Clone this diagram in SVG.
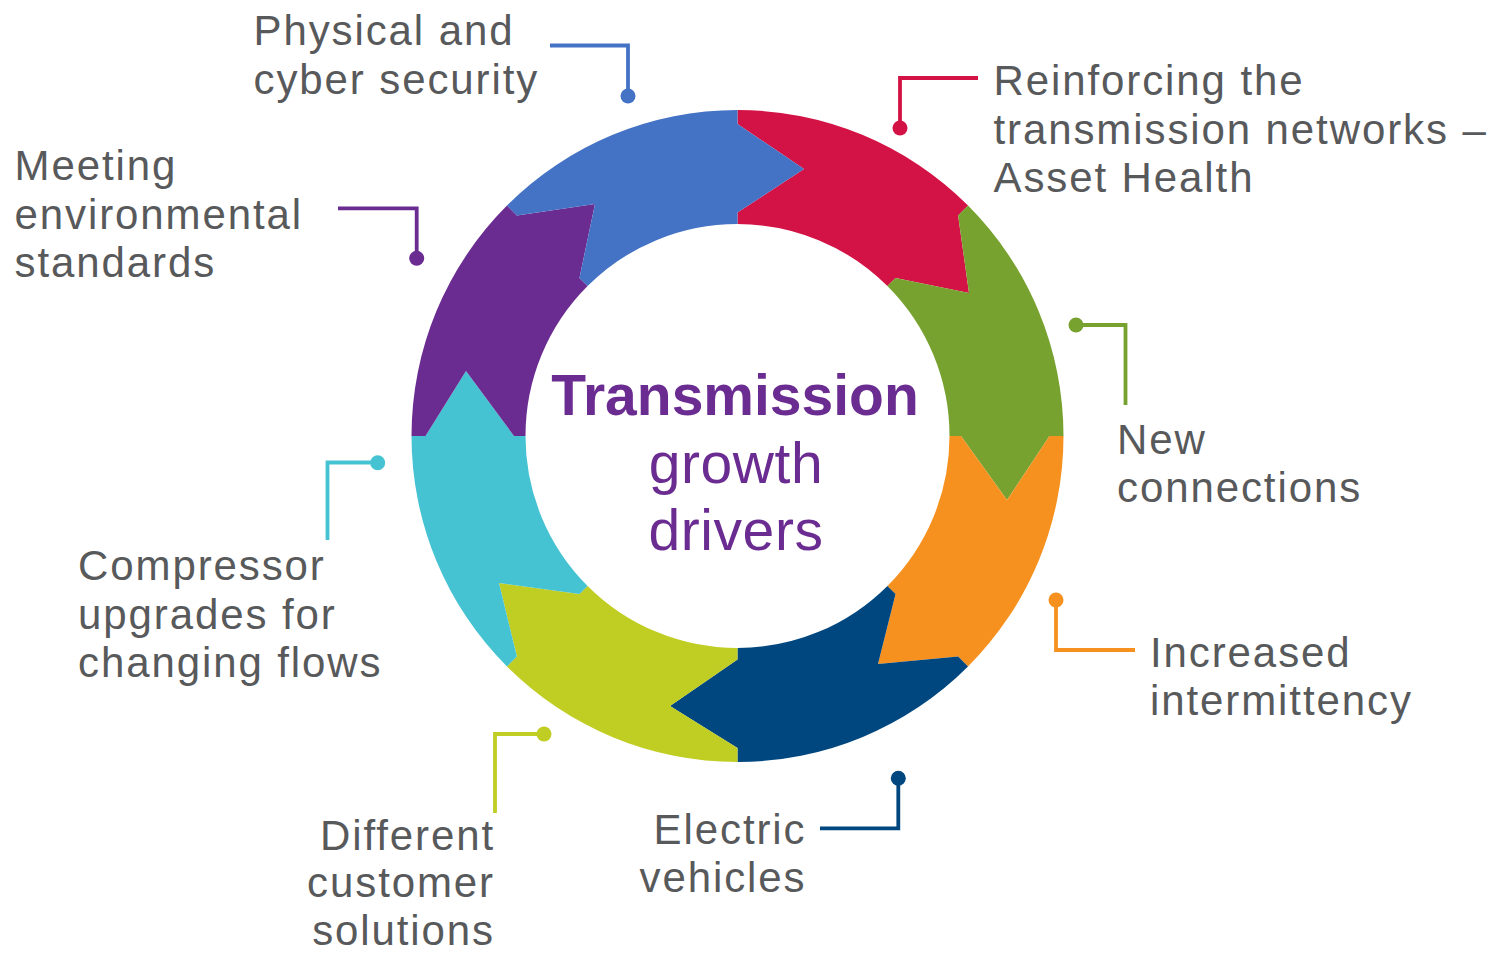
<svg xmlns="http://www.w3.org/2000/svg" width="1493" height="953" viewBox="0 0 1493 953">
<style>
.lbl{font-family:"Liberation Sans",Arial,Helvetica,sans-serif;font-size:42px;fill:#58595B;letter-spacing:1.9px}
.end{text-anchor:end}
.ctr{font-family:"Liberation Sans",Arial,Helvetica,sans-serif;fill:#6B2C91;text-anchor:middle;font-size:57px}
.bold{font-weight:bold;letter-spacing:0}
.reg{letter-spacing:0.6px}
.ln{fill:none;stroke-width:3.8}
.c-red{fill:#D31245}.s-red{stroke:#D31245}
.c-green{fill:#78A22F}.s-green{stroke:#78A22F}
.c-orange{fill:#F6911F}.s-orange{stroke:#F6911F}
.c-navy{fill:#00477F}.s-navy{stroke:#00477F}
.c-lime{fill:#C0CD22}.s-lime{stroke:#C0CD22}
.c-cyan{fill:#46C3D3}.s-cyan{stroke:#46C3D3}
.c-purple{fill:#6B2C91}.s-purple{stroke:#6B2C91}
.c-blue{fill:#4472C4}.s-blue{stroke:#4472C4}
</style>
<rect width="1493" height="953" fill="#FFFFFF"/>

<g id="node-reinforcing">
<path class="c-red" d="M 737.5 110 A 326 326 0 0 1 968.02 205.48 L 958.12 215.38 L 969 293 L 895.54 277.96 L 887.41 286.09 A 212 212 0 0 0 737.5 224 L 737.5 212.5 L 804 169 L 737.5 124 Z"/>
<text class="lbl" x="993.5" y="95">Reinforcing the</text>
<text class="lbl" x="993.5" y="143.5">transmission networks –</text>
<text class="lbl" x="993.5" y="192">Asset Health</text>
</g>

<g id="node-new-connections">
<path class="c-green" d="M 968.02 205.48 A 326 326 0 0 1 1063.5 436 L 1049.5 436 L 1007 500 L 961 436 L 949.5 436 A 212 212 0 0 0 887.41 286.09 L 895.54 277.96 L 969 293 L 958.12 215.38 Z"/>
<text class="lbl" x="1117" y="453.5">New</text>
<text class="lbl" x="1117" y="502">connections</text>
</g>

<g id="node-intermittency">
<path class="c-orange" d="M 1063.5 436 A 326 326 0 0 1 968.02 666.52 L 958.12 656.62 L 878 664 L 895.54 594.04 L 887.41 585.91 A 212 212 0 0 0 949.5 436 L 961 436 L 1007 500 L 1049.5 436 Z"/>
<text class="lbl" x="1150" y="667">Increased</text>
<text class="lbl" x="1150" y="715">intermittency</text>
</g>

<g id="node-electric-vehicles">
<path class="c-navy" d="M 968.02 666.52 A 326 326 0 0 1 737.5 762 L 737.5 748 L 670 706 L 737.5 659.5 L 737.5 648 A 212 212 0 0 0 887.41 585.91 L 895.54 594.04 L 878 664 L 958.12 656.62 Z"/>
<text class="lbl end" x="806.5" y="843.5">Electric</text>
<text class="lbl end" x="806.5" y="892">vehicles</text>
</g>

<g id="node-customer-solutions">
<path class="c-lime" d="M 737.5 762 A 326 326 0 0 1 506.98 666.52 L 516.88 656.62 L 499 583 L 579.46 594.04 L 587.59 585.91 A 212 212 0 0 0 737.5 648 L 737.5 659.5 L 670 706 L 737.5 748 Z"/>
<text class="lbl end" x="495" y="849.5">Different</text>
<text class="lbl end" x="495" y="897">customer</text>
<text class="lbl end" x="495" y="944.5">solutions</text>
</g>

<g id="node-compressor">
<path class="c-cyan" d="M 506.98 666.52 A 326 326 0 0 1 411.5 436 L 425.5 436 L 466 371 L 514 436 L 525.5 436 A 212 212 0 0 0 587.59 585.91 L 579.46 594.04 L 499 583 L 516.88 656.62 Z"/>
<text class="lbl" x="78" y="580">Compressor</text>
<text class="lbl" x="78" y="628.5">upgrades for</text>
<text class="lbl" x="78" y="677">changing flows</text>
</g>

<g id="node-environmental">
<path class="c-purple" d="M 411.5 436 A 326 326 0 0 1 506.98 205.48 L 516.88 215.38 L 595 204 L 579.46 277.96 L 587.59 286.09 A 212 212 0 0 0 525.5 436 L 514 436 L 466 371 L 425.5 436 Z"/>
<text class="lbl" x="14.5" y="180">Meeting</text>
<text class="lbl" x="14.5" y="228.5">environmental</text>
<text class="lbl" x="14.5" y="276.5">standards</text>
</g>

<g id="node-security">
<path class="c-blue" d="M 506.98 205.48 A 326 326 0 0 1 737.5 110 L 737.5 124 L 804 169 L 737.5 212.5 L 737.5 224 A 212 212 0 0 0 587.59 286.09 L 579.46 277.96 L 595 204 L 516.88 215.38 Z"/>
<text class="lbl" x="253.5" y="45">Physical and</text>
<text class="lbl" x="253.5" y="93.5">cyber security</text>
</g>

<g id="node-center">
<text class="ctr bold" x="735" y="415">Transmission</text>
<text class="ctr reg" x="736" y="483">growth</text>
<text class="ctr reg" x="736" y="550">drivers</text>
</g>

<g id="connectors">
<path class="ln s-blue" d="M 550 45.5 H 628 V 96"/>
<circle class="c-blue" cx="628" cy="96" r="7.5"/>
<path class="ln s-red" d="M 978 78 H 900 V 128"/>
<circle class="c-red" cx="900" cy="128" r="7.5"/>
<path class="ln s-green" d="M 1076 325 H 1125.5 V 405"/>
<circle class="c-green" cx="1076" cy="325" r="7.5"/>
<path class="ln s-orange" d="M 1056 600 V 650 H 1135"/>
<circle class="c-orange" cx="1056" cy="600" r="7.5"/>
<path class="ln s-navy" d="M 898.3 778 V 828.3 H 820"/>
<circle class="c-navy" cx="898.3" cy="778.3" r="7.5"/>
<path class="ln s-lime" d="M 544 734 H 495 V 813"/>
<circle class="c-lime" cx="544" cy="734" r="7.5"/>
<path class="ln s-cyan" d="M 378 462.5 H 327.5 V 540"/>
<circle class="c-cyan" cx="377.7" cy="462.7" r="7.5"/>
<path class="ln s-purple" d="M 338 208.3 H 416.7 V 258.3"/>
<circle class="c-purple" cx="416.7" cy="258.3" r="7.5"/>
</g>
</svg>
